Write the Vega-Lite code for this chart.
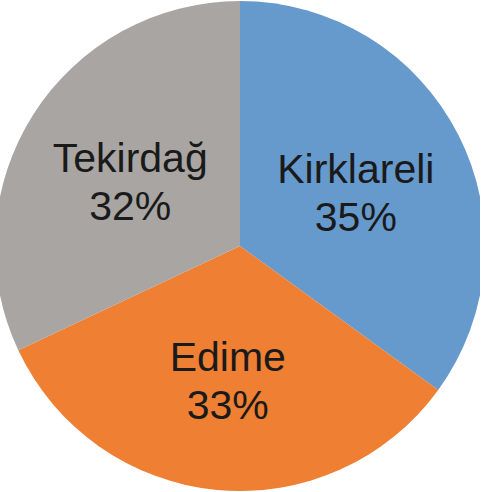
{
  "$schema": "https://vega.github.io/schema/vega-lite/v6.json",
  "width": 480,
  "height": 492,
  "padding": 0,
  "autosize": "none",
  "background": "white",
  "config": {"view": {"stroke": null}},
  "data": {
    "values": [
      {"region": "Kirklareli", "share": 35, "order": 1, "label": "Kirklareli\n35%"},
      {"region": "Edime", "share": 33, "order": 2, "label": "Edime\n33%"},
      {"region": "Tekirdağ", "share": 32, "order": 3, "label": "Tekirdağ\n32%"}
    ]
  },
  "encoding": {
    "theta": {"field": "share", "type": "quantitative", "stack": true},
    "order": {"field": "order", "type": "quantitative"}
  },
  "layer": [
    {
      "mark": {"type": "arc", "outerRadius": 245},
      "encoding": {
        "color": {
          "field": "region",
          "type": "nominal",
          "scale": {"domain": ["Kirklareli", "Edime", "Tekirdağ"], "range": ["#6699CC", "#EE7F33", "#A8A5A2"]},
          "legend": null
        }
      }
    },
    {
      "mark": {"type": "text", "radius": 130, "dy": -16, "font": "Liberation Sans", "fontSize": 41, "lineHeight": 48, "lineBreak": "\n", "fill": "#1a1a1a", "align": "center", "baseline": "middle"},
      "encoding": {
        "text": {"field": "label", "type": "nominal"}
      }
    }
  ]
}
